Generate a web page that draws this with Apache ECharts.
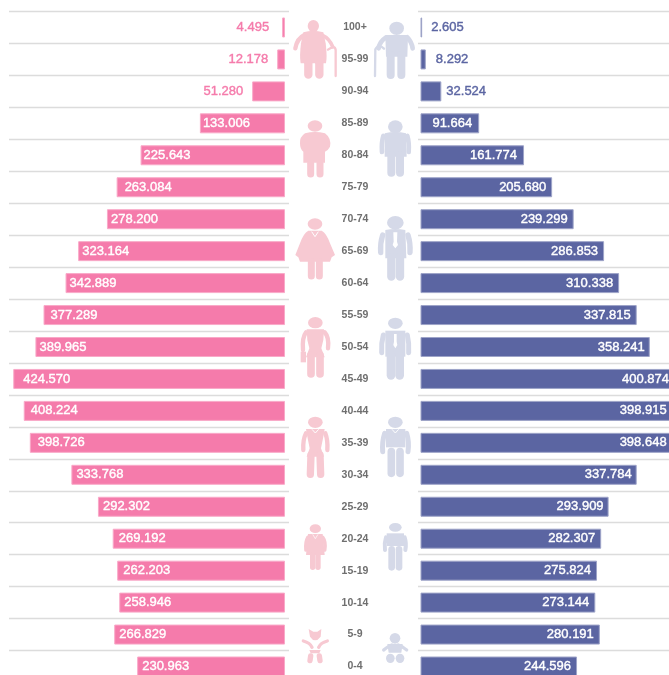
<!DOCTYPE html>
<html><head><meta charset="utf-8">
<style>html,body{margin:0;padding:0;background:#fff}#c{width:669px;height:675px}</style>
<script src="https://cdn.jsdelivr.net/npm/echarts@6/dist/echarts.min.js"></script>
</head><body><div id="c"></div>
<script>
const ageGroups = ['100+','95-99','90-94','85-89','80-84','75-79','70-74','65-69','60-64','55-59','50-54','45-49','40-44','35-39','30-34','25-29','20-24','15-19','10-14','5-9','0-4'];
const femaleValues = [4495,12178,51280,133006,225643,263084,278200,323164,342889,377289,389965,424570,408224,398726,333768,292302,269192,262203,258946,266829,230963];
const maleValues = [2605,8292,32524,91664,161774,205680,239299,286853,310338,337815,358241,400874,398915,398648,337784,293909,282307,275824,273144,280191,244596];
const outsideLabelCount = 3;
const femaleLabelGaps = [13,9,9,3,3,8,4,4,4,7,4,10,7,8,5,5,6,6,5,5,5];
const maleLabelGaps = [9,10,5,7,7,6,6,6,6,6,5,8,9,9,5,5,6,6,6,6,6];

const PINK='#f57bab', BLUE='#5b65a2', PINK_SOFT='#f7c9d2', BLUE_SOFT='#d5d9e8';
const fmt = v => (v/1000).toFixed(3);
const labelFont = {fontFamily:'"Liberation Sans",Arial,sans-serif',fontSize:13,fontWeight:'normal'};

function barData(values,gaps,outPos,inPos,outColor){
  return values.map((v,i)=>{
    const c=i<outsideLabelCount?outColor:'#fff';
    return {value:v,label:Object.assign({},labelFont,{
      show:true,formatter:fmt(v),distance:gaps[i],
      position:i<outsideLabelCount?outPos:inPos,
      color:c,textBorderColor:c,textBorderWidth:0.4})};
  });
}
const maxV=450000;
const lineStyle={color:'#dcdcdc',width:1.4};

// icons: paths written in the 3x coordinates of small local frames
const ell=(x,y,rx,ry)=>`M${x-rx},${y}a${rx},${ry} 0 1,0 ${2*rx},0a${rx},${ry} 0 1,0 ${-2*rx},0Z`;
function fig(color,ox,oy,fills,strokes,whites){
  const ch=[];
  fills.forEach(d=>ch.push({type:'path',shape:{pathData:d},style:{fill:color}}));
  strokes.forEach(([d,w])=>ch.push({type:'path',shape:{pathData:d},style:{fill:'none',stroke:color,lineWidth:w,lineCap:'round',lineJoin:'round'}}));
  (whites||[]).forEach(([d,w])=>ch.push({type:'path',shape:{pathData:d},style:w?{fill:'none',stroke:'#fff',lineWidth:w}:{fill:'#fff'}}));
  return {type:'group',x:ox,y:oy,scaleX:1/3,scaleY:1/3,silent:true,children:ch};
}
const icons=[
 // old woman
 fig(PINK_SOFT,280,0,[ell(100,78,17,18),'M70,97Q100,88 130,97L137,130Q142,170 138,190L62,190Q58,170 63,130Z'],
  [['M72,106Q52,115 46,145',13],['M128,106Q148,115 158,140',11],['M85,190L85,224',25],['M118,190L118,224',25],['M144,149Q165,134 167,150L167,228',7]]),
 // old man
 fig(BLUE_SOFT,280,0,[ell(350,85,22,20),'M316,105L384,105L382,170L318,170Z'],
  [['M318,112Q298,125 296,145',14],['M382,112Q395,125 398,145',14],['M332,165L332,225',24],['M364,165L364,225',24],['M285,228L286,148Q296,130 312,146',7]]),
 // heavy woman
 fig(PINK_SOFT,280,0,[ell(105,378,22,17),'M75,400Q105,392 135,400Q155,415 150,440Q145,450 135,455L135,488L70,488L70,455Q60,448 60,430Q58,412 75,400Z'],
  [['M92,490L92,522',21],['M120,490L120,522',21]]),
 // heavy man
 fig(BLUE_SOFT,280,0,[ell(346,380,22,19),'M314,400Q346,392 378,400L380,470L314,470Z'],
  [['M310,408Q304,428 306,456',14],['M382,408Q388,428 386,456',14],['M334,465L334,518',24],['M360,465L360,518',24]]),
 // woman, dress
 fig(PINK_SOFT,280,200,[ell(105,72,22,17),'M85,92L125,92Q140,100 150,130L165,165L155,172L150,185L60,185L55,172L46,165L60,130Q70,100 85,92Z'],
  [['M94,185L94,228',21],['M118,185L118,228',21]],[['M95,95L105,110L115,95',3]]),
 // man, big suit
 fig(BLUE_SOFT,280,200,[ell(346,68,25,20),'M316,90Q346,84 376,90L379,175L316,175Z'],
  [['M308,105Q300,130 302,158',16],['M384,105Q392,130 390,158',16],['M334,172L334,230',25],['M360,172L360,230',25]],
  [['M340,97L352,97L351,125L354,135L346,145L338,135L341,125Z',0]]),
 // woman, briefcase
 fig(PINK_SOFT,280,200,[ell(106,368,22,17),'M80,388L132,388L130,420L124,445L134,472L78,472L88,445L82,420Z','M62,455L78,455L78,487L62,487Z'],
  [['M78,397Q66,412 69,450',13],['M134,397Q148,412 144,445',13],['M93,465L93,522',23],['M120,465L120,522',23]]),
 // man, suit
 fig(BLUE_SOFT,280,200,[ell(346,370,22,17),'M316,392L376,392L376,470L316,470Z'],
  [['M310,405Q303,430 305,458',15],['M382,405Q388,430 386,458',15],['M333,465L333,526',26],['M359,465L359,526',26]],
  [['M342,402L350,402L350,425L352,435L346,445L340,435L342,425Z',0]]),
 // woman, fitted
 fig(PINK_SOFT,290,405,[ell(76,52,22,17),'M48,72L104,72L100,95L93,130L102,155L50,155L59,130L52,95Z'],
  [['M48,85Q38,105 40,135',13],['M106,85Q114,105 112,135',13],['M63,150L61,208',22],['M90,150L92,208',22]],[['M66,73L76,84L86,73',3]]),
 // man, jumper
 fig(BLUE_SOFT,290,405,[ell(316,52,22,17),'M288,72L346,72L346,127L288,127Z'],
  [['M284,85Q276,110 278,140',15],['M350,85Q358,110 354,140',15],['M304,140L304,205',23],['M330,140L330,205',23]],[['M306,73L316,84L326,73',3]]),
 // girl
 fig(PINK_SOFT,280,440,[ell(106,266,17,13),'M84,282L128,282L134,345L78,345Z'],
  [['M84,292Q76,305 78,330',11],['M128,292Q138,305 134,330',11],['M98,345L98,382',16],['M114,345L114,382',16]],[['M98,283L106,296L114,283',2]]),
 // boy
 fig(BLUE_SOFT,280,440,[ell(346,262,19,13),'M320,280L372,280L372,318L320,318Z'],
  [['M318,292Q312,310 315,330',12],['M374,292Q380,310 376,330',12],['M335,328L335,382',20],['M357,328L357,382',20]]),
 // baby girl
 fig(PINK_SOFT,280,440,['M86,567L100,575L112,575L124,567L122,590Q105,612 90,590Z','M88,630L122,630L118,640L92,640Z'],
  [['M70,603Q90,608 96,622',10],['M142,603Q122,608 116,622',10],['M92,648L90,662',16],['M118,648L120,662',16]]),
 // baby boy
 fig(BLUE_SOFT,280,440,[ell(345,595,16,16),'M322,612L368,612L364,638L326,638Z',ell(331,655,13,14),ell(360,655,13,14)],
  [['M311,630Q325,618 335,615',10],['M380,630Q365,618 355,615',10]])
];

const catAxis=(grid,extra)=>Object.assign({type:'category',gridIndex:grid,data:ageGroups,inverse:true,
  axisLine:{show:false},axisTick:{show:false},axisLabel:{show:false},splitLine:{show:false}},extra);
const valAxis=(grid,inverse)=>({type:'value',gridIndex:grid,min:0,max:maxV,inverse,show:false,splitLine:{show:false}});

const gridTop=11.5,gridH=671;
const gridBase={top:gridTop,height:gridH,outerBoundsMode:'none',containLabel:false};
const option={
  animation:false,backgroundColor:'#fff',
  grid:[
    Object.assign({left:9,width:280},gridBase),
    Object.assign({left:418,width:251},gridBase),
    Object.assign({left:-3,width:288},gridBase),
    Object.assign({left:420.5,width:288},gridBase)
  ],
  xAxis:[valAxis(0,false),valAxis(1,false),valAxis(2,true),valAxis(3,false)],
  yAxis:[
    catAxis(0,{splitLine:{show:true,lineStyle}}),
    catAxis(1,{splitLine:{show:true,lineStyle}}),
    catAxis(2,{position:'right',axisLabel:{show:true,interval:0,align:'center',margin:70,padding:[2,0,0,0],
      color:'#6f6f6f',fontFamily:'"Liberation Sans",Arial,sans-serif',fontSize:10.5,fontWeight:'bold'}}),
    catAxis(3)
  ],
  series:[
    {type:'bar',name:'Female',xAxisIndex:2,yAxisIndex:2,barWidth:20,
     itemStyle:{color:PINK,borderColor:'#f9a9c8',borderWidth:1},
     data:barData(femaleValues,femaleLabelGaps,'left','insideLeft',PINK)},
    {type:'bar',name:'Male',xAxisIndex:3,yAxisIndex:3,barWidth:20,
     itemStyle:{color:BLUE,borderColor:'#9ea4c8',borderWidth:1},
     data:barData(maleValues,maleLabelGaps,'right','insideRight',BLUE)},
    {type:'custom',name:'Figures',coordinateSystem:'none',silent:true,
     data:icons.map((_,i)=>[i]),renderItem:(p)=>icons[p.dataIndex]}
  ]
};
echarts.init(document.getElementById('c'),null,{renderer:'canvas'}).setOption(option);
</script></body></html>
